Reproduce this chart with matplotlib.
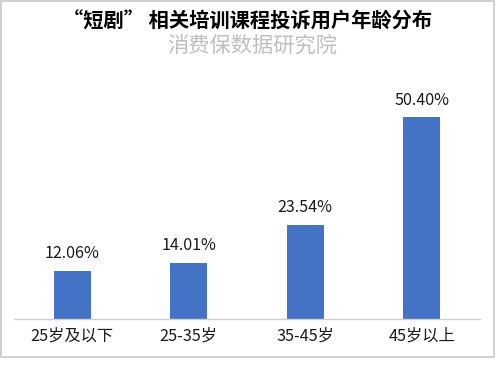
import matplotlib
matplotlib.use("Agg")
import matplotlib.pyplot as plt
from matplotlib.patches import Rectangle

plt.rcParams['font.family'] = ['Noto Sans CJK SC', 'DejaVu Sans']

categories = ["25岁及以下", "25-35岁", "35-45岁", "45岁以上"]
values = [12.06, 14.01, 23.54, 50.40]
labels = ["12.06%", "14.01%", "23.54%", "50.40%"]
title = "“短剧” 相关培训课程投诉用户年龄分布"
subtitle = "消费保数据研究院"

W, H = 496, 367
fig = plt.figure(figsize=(W/100, H/100), dpi=100)
fig.patches.append(Rectangle((1/W, 1 - 357/H), 493/W, 356/H, transform=fig.transFigure,
                             fill=False, edgecolor='#C8C8C8', linewidth=1.2))

left, right = 14/W, 480/W
bottom = 1 - 319/H
top = 1 - 79/H
ax = fig.add_axes([left, bottom, right - left, top - bottom])
x = range(len(categories))
ax.bar(x, values, width=0.32, color='#4472C4')
ax.set_xlim(-0.5, len(categories) - 0.5)
ax.set_ylim(0, 60)
for i, (v, t) in enumerate(zip(values, labels)):
    ax.text(i, v + 2.2, t, ha='center', va='bottom', fontsize=11.6, color='#1a1a1a')
ax.set_xticks(list(x))
ax.set_xticklabels(categories, fontsize=11.7, color='#1a1a1a')
ax.tick_params(axis='x', length=0, pad=6)
ax.set_yticks([])
for s in ['top', 'right', 'left']:
    ax.spines[s].set_visible(False)
ax.spines['bottom'].set_color('#D0D0D0')
ax.spines['bottom'].set_linewidth(1.0)

fig.text(248/W, 1 - 21/H, title, ha='center', va='center', fontsize=14.6, fontweight='bold', color='#000000')
fig.text(252/W, 1 - 46/H, subtitle, ha='center', va='center', fontsize=15.3, color='#BFBFBF', fontweight='light')

fig.savefig("out.png", dpi=100)
